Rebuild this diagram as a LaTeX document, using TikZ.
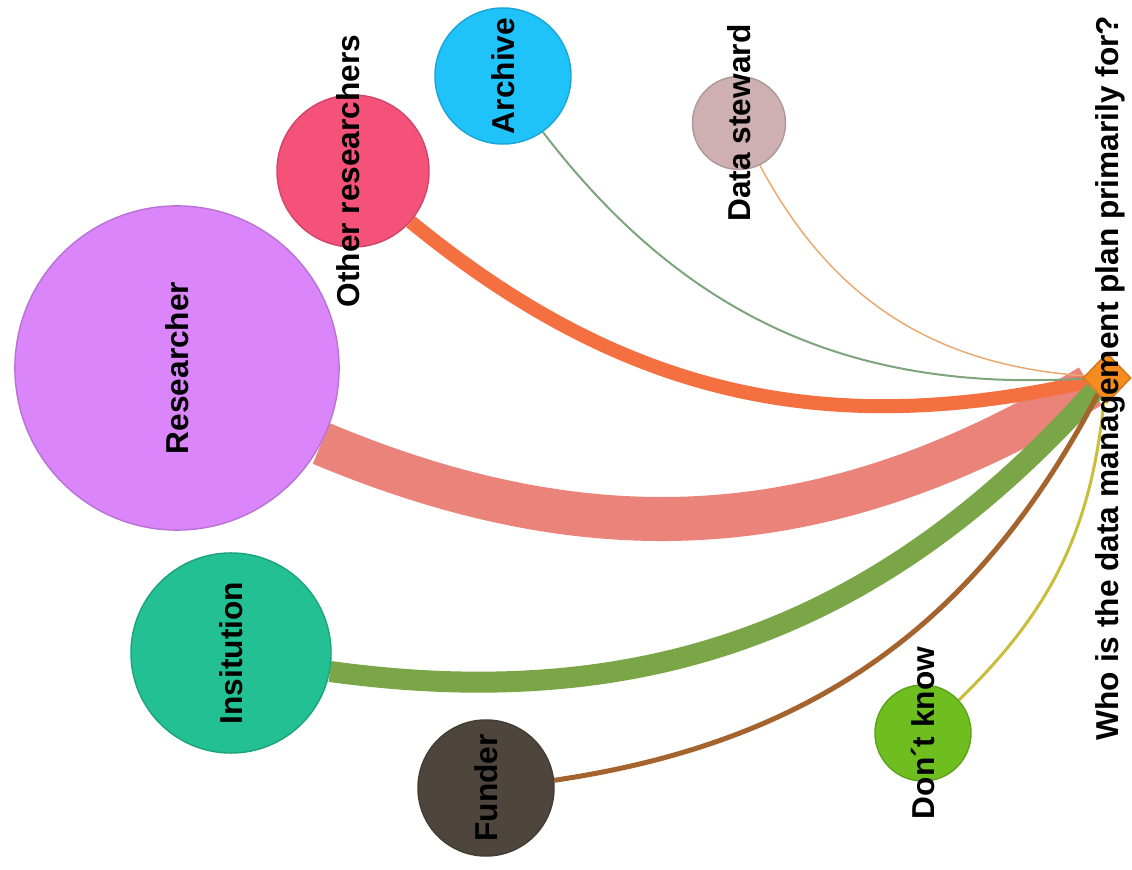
\documentclass[tikz,border=0pt]{standalone}
\usepackage{fontspec}
\setmainfont{Liberation Sans}
\usetikzlibrary{shapes.geometric,backgrounds}
\definecolor{researchercol}{RGB}{218,133,250}
\definecolor{othercol}{RGB}{245,82,122}
\definecolor{archivecol}{RGB}{32,194,250}
\definecolor{stewardcol}{RGB}{206,176,178}
\definecolor{institutioncol}{RGB}{34,192,146}
\definecolor{fundercol}{RGB}{78,70,60}
\definecolor{dontknowcol}{RGB}{110,190,32}
\definecolor{hubcol}{RGB}{244,140,32}
\definecolor{researcheredge}{RGB}{234,132,122}
\definecolor{otheredge}{RGB}{244,112,64}
\definecolor{archiveedge}{RGB}{125,165,125}
\definecolor{stewardedge}{RGB}{232,170,112}
\definecolor{institutionedge}{RGB}{122,166,72}
\definecolor{funderedge}{RGB}{165,100,45}
\definecolor{dontknowedge}{RGB}{200,190,60}
\begin{document}
\begin{tikzpicture}[x=0.01cm, y=-0.01cm,
    actor/.style={circle, draw=#1!85!black, fill=#1, line width=0.4pt, inner sep=0pt},
    lbl/.style={font=\fontsize{9}{10}\selectfont\bfseries, rotate=90, inner sep=0pt},
    link/.style={draw=#1, line cap=butt}]
  \useasboundingbox (0, 0) rectangle (1132, 870);
  \node [actor=researchercol, minimum size=3.24cm] (researcher) at (177, 368) {};
  \node [actor=othercol, minimum size=1.52cm] (others) at (353, 171) {};
  \node [actor=archivecol, minimum size=1.36cm] (archive) at (503, 76) {};
  \node [actor=stewardcol, minimum size=0.93cm] (steward) at (739, 123) {};
  \node [actor=institutioncol, minimum size=2cm] (institution) at (231, 653) {};
  \node [actor=fundercol, minimum size=1.36cm] (funder) at (486, 788) {};
  \node [actor=dontknowcol, minimum size=0.96cm] (dontknow) at (923, 733) {};
  \node [diamond, fill=hubcol, draw=hubcol!85!black, line width=0.4pt,
    minimum width=0.48cm, minimum height=0.5cm, inner sep=0pt] (hub) at (1107, 378) {};
  \begin{scope}[on background layer]
    \draw [link=researcheredge, line width=0.44cm] (researcher) to [bend right=27] (hub);
    \draw [link=otheredge, line width=0.14cm] (others) to [bend right=26] (hub);
    \draw [link=archiveedge, line width=0.02cm] (archive) to [bend right=28] (hub);
    \draw [link=stewardedge, line width=0.015cm] (steward) to [bend right=29] (hub);
    \draw [link=institutionedge, line width=0.21cm] (institution) to [bend right=28] (hub);
    \draw [link=funderedge, line width=0.05cm] (funder) to [bend right=27] (hub);
    \draw [link=dontknowedge, line width=0.03cm] (dontknow) to [bend right=20] (hub);
  \end{scope}
  \node [lbl] (researcher-l) at (researcher) {Researcher};
  \node [lbl] (others-l) at (348, 171) {Other researchers};
  \node [lbl] (archive-l) at (archive) {Archive};
  \node [lbl] (steward-l) at (steward) {Data steward};
  \node [lbl] (institution-l) at (institution) {Insitution};
  \node [lbl] (funder-l) at (funder) {Funder};
  \node [lbl] (dontknow-l) at (dontknow) {Don´t know};
  \node [lbl] (hub-l) at (1110, 378) {Who is the data management plan primarily for?};
\end{tikzpicture}
\end{document}
